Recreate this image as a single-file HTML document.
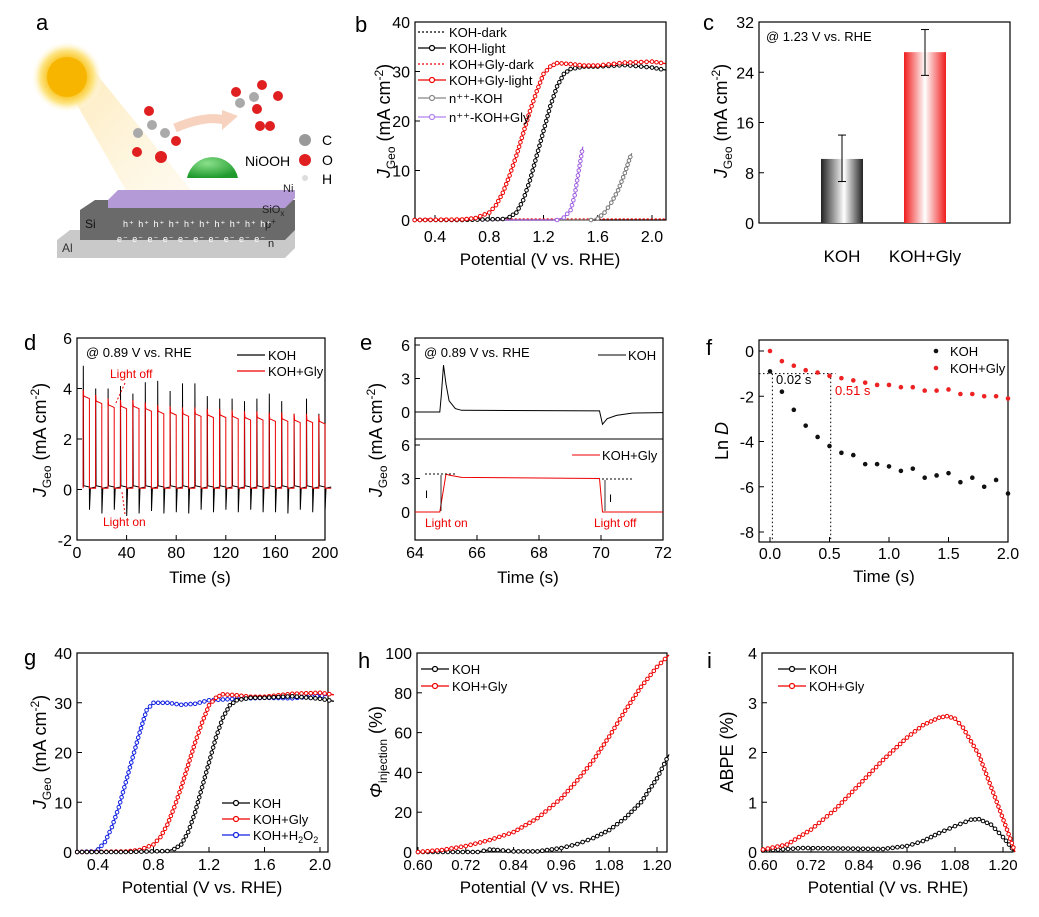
<!DOCTYPE html>
<html><head><meta charset="utf-8"><style>
body{margin:0;background:#fff}
svg{display:block;font-family:"Liberation Sans",Arial,sans-serif}
</style></head><body>
<svg id="fig" width="1039" height="917" viewBox="0 0 1039 917" xmlns="http://www.w3.org/2000/svg">
<defs>
<radialGradient id="sunG" cx="50%" cy="50%" r="50%"><stop offset="0.5" stop-color="#f9c21a"/><stop offset="0.75" stop-color="#fde68a"/><stop offset="1" stop-color="#fff" stop-opacity="0"/></radialGradient>
<linearGradient id="beam" x1="0" y1="0" x2="1" y2="1"><stop offset="0" stop-color="#fbd77a" stop-opacity="0.9"/><stop offset="1" stop-color="#fff3d6" stop-opacity="0.2"/></linearGradient>
<radialGradient id="dome" cx="40%" cy="30%" r="70%"><stop offset="0" stop-color="#8be08b"/><stop offset="1" stop-color="#1f9a2c"/></radialGradient>
<linearGradient id="barK" x1="0" x2="1"><stop offset="0" stop-color="#222"/><stop offset="0.55" stop-color="#fff"/><stop offset="1" stop-color="#222"/></linearGradient>
<linearGradient id="barR" x1="0" x2="1"><stop offset="0" stop-color="#f01c1c"/><stop offset="0.5" stop-color="#fff"/><stop offset="1" stop-color="#f01c1c"/></linearGradient>
</defs>
<g>
<text x="36" y="30" font-size="22">a</text>
<polygon points="60,75 85,60 240,250 160,250" fill="url(#beam)" opacity="0.6"/>
<circle cx="67" cy="77" r="36" fill="url(#sunG)"/>
<circle cx="67" cy="77" r="20" fill="#f7b500"/>
<path d="M175,128 Q205,115 225,120" stroke="#f7d2bf" stroke-width="9" fill="none"/>
<polygon points="222,110 238,116 222,130" fill="#f7d2bf"/>
<g>
<circle cx="138" cy="133" r="5" fill="#aaa"/><circle cx="152" cy="125" r="5" fill="#aaa"/><circle cx="165" cy="133" r="5" fill="#aaa"/>
<circle cx="149" cy="111" r="5" fill="#e02020"/><circle cx="137" cy="152" r="5" fill="#e02020"/><circle cx="176" cy="141" r="5" fill="#e02020"/>
</g>
<g>
<circle cx="240" cy="103" r="5" fill="#aaa"/><circle cx="254" cy="97" r="5" fill="#aaa"/>
<circle cx="236" cy="92" r="5" fill="#e02020"/><circle cx="262" cy="85" r="5" fill="#e02020"/><circle cx="257" cy="109" r="5" fill="#e02020"/><circle cx="278" cy="96" r="5" fill="#e02020"/>
<circle cx="260" cy="126" r="5" fill="#e02020"/><circle cx="270" cy="126" r="5" fill="#e02020"/>
</g>
<circle cx="161" cy="157" r="6" fill="#e02020"/>
<path d="M187,178 A26,26 0 0 1 238,178 Z" fill="url(#dome)"/>
<text x="245" y="166" font-size="14">NiOOH</text>
<circle cx="305" cy="140" r="6" fill="#999"/><text x="322" y="145" font-size="14">C</text>
<circle cx="305" cy="160" r="6" fill="#e02020"/><text x="322" y="165" font-size="14">O</text>
<circle cx="305" cy="178" r="3" fill="#ddd"/><text x="322" y="184" font-size="14">H</text>
<polygon points="57,240 70,230 295,230 295,248 285,258 57,258" fill="#c9c9c9"/>
<text x="62" y="252" font-size="12" fill="#333">Al</text>
<polygon points="80,210 95,200 295,200 295,230 285,240 80,240" fill="#6a6a6a"/>
<text x="85" y="228" font-size="12" fill="#111">Si</text>
<polygon points="108,200 118,190 295,190 295,198 285,208 108,208" fill="#b59ad8"/>
<text x="262" y="213" font-size="11" fill="#222">SiO<tspan font-size="8" dy="3">x</tspan></text>
<text x="283" y="192" font-size="11" fill="#222">Ni</text>
<text x="265" y="228" font-size="11" fill="#222">p<tspan font-size="8" dy="-4">+</tspan></text>
<text x="268" y="247" font-size="11" fill="#222">n</text>
<text x="123" y="227" font-size="9" fill="#fff" letter-spacing="1">h⁺ h⁺ h⁺ h⁺ h⁺ h⁺ h⁺ h⁺ h⁺ h⁺</text>
<text x="117" y="242" font-size="9" fill="#fff" letter-spacing="1">e⁻ e⁻ e⁻ e⁻ e⁻ e⁻ e⁻ e⁻ e⁻ e⁻</text>
</g>
<g id="charts"></g>
</svg>
<script>
const bX_KOH=[0.25,0.6,0.9,0.95,1.0,1.05,1.1,1.15,1.2,1.25,1.3,1.35,1.4,1.5,1.6,1.8,2.0,2.1];
const bY_KOH=[0,0,0.2,0.6,1.5,4,8,13,18,23,27,29.5,30.5,31,31,31.3,30.8,30.3];
const bX_Gly=[0.25,0.6,0.7,0.8,0.85,0.9,0.95,1.0,1.05,1.1,1.15,1.2,1.25,1.3,1.4,1.5,1.6,1.8,2.0,2.1];
const bY_Gly=[0,0.1,0.4,1.5,3,5.5,9,13,17.5,22,26,29.5,31,31.7,31.5,31.2,31.2,31.8,32,31.6];
const bX_nK=[0.25,1.55,1.6,1.65,1.7,1.75,1.8,1.83,1.85];
const bY_nK=[0,0,0.3,1.5,3.5,6,9.5,12,13.5];
const bX_nG=[0.25,1.3,1.35,1.4,1.43,1.46,1.49];
const bY_nG=[0,0,0.5,2,5,10,14.8];
const cCats=['KOH','KOH+Gly'];
const cVals=[10.2,27.2];
const cErrLo=[6.6,23.5];
const cErrHi=[14,30.8];
const dOn=[5,15,25,35,45,55,65,75,85,95,105,115,125,135,145,155,165,175,185,195];
const dSpikeUp=[4.9,4.0,4.0,4.1,3.8,4.25,4.3,3.9,4.2,4.2,3.7,3.6,3.6,3.5,3.6,3.8,3.5,3.0,3.6,3.0];
const dSpikeDn=[-0.8,-0.95,-0.8,-1.05,-0.95,-0.85,-0.95,-0.9,-0.95,-0.8,-0.9,-0.8,-0.9,-0.8,-0.9,-0.9,-0.95,-0.8,-0.9,-0.8];
const dRed=[3.7,3.5,3.35,3.3,3.3,3.2,3.1,3.05,3.0,3.0,2.95,2.95,2.9,2.85,2.85,2.8,2.8,2.75,2.75,2.7];
const eT_KOH=[64,64.8,64.85,64.92,65.0,65.1,65.3,65.5,69.95,70.05,70.2,70.5,71,72];
const eJ_KOH=[0,0,1.5,4.2,2.5,1,0.3,0.15,0.1,-1.1,-0.6,-0.3,-0.1,-0.05];
const eT_Gly=[64,64.8,65.0,65.1,65.5,69.95,70.05,72];
const eJ_Gly=[0,0,3.4,3.3,3.1,3.0,0,0];
const fT=[0,0.1,0.2,0.3,0.4,0.5,0.6,0.7,0.8,0.9,1.0,1.1,1.2,1.3,1.4,1.5,1.6,1.7,1.8,1.9,2.0];
const fKOH=[-0.9,-1.8,-2.6,-3.3,-3.8,-4.2,-4.5,-4.6,-5.0,-5.0,-5.1,-5.3,-5.2,-5.6,-5.5,-5.4,-5.8,-5.6,-6.0,-5.7,-6.3];
const fGly=[0,-0.45,-0.65,-0.85,-0.95,-1.1,-1.2,-1.3,-1.4,-1.5,-1.5,-1.6,-1.6,-1.75,-1.75,-1.7,-1.9,-1.9,-2.0,-2.0,-2.1];
const gX_H2O2=[0.25,0.35,0.4,0.45,0.5,0.55,0.6,0.65,0.7,0.75,0.8,0.9,1.0,1.1,1.2,1.4,1.6,1.8,2.05];
const gY_H2O2=[0,0.1,0.5,2,5,9,14,19,24,28.5,30,30,29.6,29.8,30.5,30.8,31,30.9,31.5];
const hX_KOH=[0.6,0.75,0.78,0.8,0.84,0.9,0.96,1.0,1.04,1.08,1.12,1.16,1.2,1.23];
const hY_KOH=[0,0,1.2,1,0.3,0.3,2,4,7,11,17,25,37,49];
const hX_Gly=[0.6,0.66,0.72,0.78,0.84,0.9,0.96,1.0,1.04,1.08,1.12,1.16,1.2,1.23];
const hY_Gly=[0,1,3,6,10,17,27,36,46,58,71,83,93,99];
const iX_KOH=[0.6,0.7,0.8,0.9,0.96,1.0,1.04,1.08,1.12,1.14,1.17,1.2,1.23];
const iY_KOH=[0.03,0.08,0.07,0.06,0.12,0.22,0.38,0.52,0.65,0.66,0.55,0.3,0];
const iX_Gly=[0.6,0.66,0.72,0.78,0.84,0.9,0.96,1.0,1.04,1.06,1.08,1.1,1.14,1.18,1.21,1.23];
const iY_Gly=[0.05,0.15,0.45,0.85,1.35,1.85,2.3,2.55,2.7,2.73,2.68,2.5,1.95,1.1,0.45,0];

const NS='http://www.w3.org/2000/svg';
const root=document.getElementById('charts');
function mk(tag,attrs,name,parent){
  const e=document.createElementNS(NS,tag);
  for(const k in attrs)e.setAttribute(k,attrs[k]);
  
  
  (parent||root).appendChild(e);return e;
}
function txt(x,y,s,size,name,opt,parent){const t=mk('text',Object.assign({x:x,y:y,'font-size':size},opt||{}),name,parent);t.textContent=s;return t;}
function lin(d0,d1,p0,p1){return v=>p0+(v-d0)*(p1-p0)/(d1-d0);}
function box(b,name){mk('rect',{x:b.x0,y:b.y0,width:b.x1-b.x0,height:b.y1-b.y0,fill:'none',stroke:'#000','stroke-width':1.2},name);}
function xTicks(b,sx,vals,labels,fs,ly,name){
  vals.forEach((v,i)=>{const x=sx(v);
    mk('line',{x1:x,x2:x,y1:b.y1,y2:b.y1-5,stroke:'#000'},name+'-tick');
    txt(x,ly,labels[i],fs,name+'-label',{'text-anchor':'middle'});});
}
function yTicks(b,sy,vals,labels,fs,name){
  vals.forEach((v,i)=>{const y=sy(v);
    mk('line',{x1:b.x0,x2:b.x0+5,y1:y,y2:y,stroke:'#000'},name+'-tick');
    txt(b.x0-5,y+6,labels[i],fs,name+'-label',{'text-anchor':'end'});});
}
function path(xs,ys,sx,sy,color,name,opt){
  const d=xs.map((v,i)=>(i?'L':'M')+sx(v).toFixed(1)+','+sy(ys[i]).toFixed(1)).join('');
  return mk('path',Object.assign({d:d,fill:'none',stroke:color,'stroke-width':1.3},opt||{}),name);
}
function dense(xs,ys,sx,sy,color,name){
  for(let i=0;i<xs.length-1;i++){
    const n=Math.max(1,Math.round(Math.hypot(sx(xs[i+1])-sx(xs[i]),sy(ys[i+1])-sy(ys[i]))/5));
    for(let k=0;k<n;k++){const f=k/n;
      mk('circle',{cx:sx(xs[i])+(sx(xs[i+1])-sx(xs[i]))*f,cy:sy(ys[i])+(sy(ys[i+1])-sy(ys[i]))*f,r:1.8,fill:'#fff',stroke:color,'stroke-width':1},name);}
  }
}
function jgeoLabel(x,y,name,size){
  const t=mk('text',{x:0,y:0,'font-size':size||18,transform:`translate(${x},${y}) rotate(-90)`,'text-anchor':'middle'},name);
  t.innerHTML='<tspan font-style="italic">J</tspan><tspan font-size="12" dy="5">Geo</tspan><tspan dy="-5"> (mA cm</tspan><tspan font-size="12" dy="-7">-2</tspan><tspan dy="7">)</tspan>';
}
function legendLine(x,y,color,label,name,dashed,marker){
  mk('line',{x1:x,x2:x+28,y1:y,y2:y,stroke:color,'stroke-width':1.3,'stroke-dasharray':dashed?'2,2':'none'},name+'-line');
  if(marker)mk('circle',{cx:x+14,cy:y,r:2.5,fill:'#fff',stroke:color,'stroke-width':1.2},name+'-marker');
  txt(x+31,y+5,label,13,name+'-text');
}

{const b={x0:415,x1:666,y0:22,y1:220};
 const sx=lin(0.4,2.0,435,652), sy=lin(0,40,220,22);
 txt(355,32,'b',22,'panel-label-b');
 box(b,'panel-b-frame');
 xTicks(b,sx,[0.4,0.8,1.2,1.6,2.0],['0.4','0.8','1.2','1.6','2.0'],16,242,'b-x');
 yTicks(b,sy,[0,10,20,30,40],['0','10','20','30','40'],16,'b-y');
 path([0.25,2.1],[0.1,0.1],sx,sy,'#000','koh-dark-line',{'stroke-dasharray':'2,2'});
 path([0.25,2.1],[0.2,0.2],sx,sy,'#e00','gly-dark-line',{'stroke-dasharray':'2,2'});
 path(bX_nK,bY_nK,sx,sy,'#777','n-koh-line'); dense(bX_nK.slice(1),bY_nK.slice(1),sx,sy,'#777','n-koh-point');
 path(bX_nG,bY_nG,sx,sy,'#a060e0','n-gly-line'); dense(bX_nG.slice(1),bY_nG.slice(1),sx,sy,'#a060e0','n-gly-point');
 path(bX_KOH,bY_KOH,sx,sy,'#000','koh-light-line'); dense(bX_KOH,bY_KOH,sx,sy,'#000','koh-light-point');
 path(bX_Gly,bY_Gly,sx,sy,'#e00','gly-light-line'); dense(bX_Gly,bY_Gly,sx,sy,'#e00','gly-light-point');
 legendLine(418,32,'#000','KOH-dark','legend-koh-dark',true,false);
 legendLine(418,48,'#000','KOH-light','legend-koh-light',false,true);
 legendLine(418,64,'#e00','KOH+Gly-dark','legend-gly-dark',true,false);
 legendLine(418,80,'#e00','KOH+Gly-light','legend-gly-light',false,true);
 legendLine(418,98,'#888','n⁺⁺-KOH','legend-n-koh',false,true);
 legendLine(418,117,'#b080f0','n⁺⁺-KOH+Gly','legend-n-gly',false,true);
 jgeoLabel(390,121,'b-y-title');
 txt(540,265,'Potential (V vs. RHE)',17,'b-x-title',{'text-anchor':'middle'});
}
{const b={x0:759,x1:1010,y0:22,y1:223};
 const sy=lin(0,32,223,22); const cx=[842,925];
 txt(703,30,'c',22,'panel-label-c');
 box(b,'panel-c-frame');
 yTicks(b,sy,[0,8,16,24,32],['0','8','16','24','32'],16,'c-y');
 cCats.forEach((c,i)=>{
   mk('rect',{x:cx[i]-21,y:sy(cVals[i]),width:42,height:sy(0)-sy(cVals[i]),fill:i?'url(#barR)':'url(#barK)'},'bar-'+c.toLowerCase().replace('+','-'));
   mk('line',{x1:cx[i],x2:cx[i],y1:sy(cErrLo[i]),y2:sy(cErrHi[i]),stroke:'#000'},'error-bar');
   mk('line',{x1:cx[i]-4,x2:cx[i]+4,y1:sy(cErrLo[i]),y2:sy(cErrLo[i]),stroke:'#000'},'error-cap');
   mk('line',{x1:cx[i]-4,x2:cx[i]+4,y1:sy(cErrHi[i]),y2:sy(cErrHi[i]),stroke:'#000'},'error-cap');
   txt(cx[i],262,c,17,'c-x-label',{'text-anchor':'middle'});
 });
 txt(766,41,'@ 1.23 V vs. RHE',13,'c-annotation');
 jgeoLabel(727,121,'c-y-title');
}
{const b={x0:77,x1:325,y0:338,y1:540};
 const sx=lin(0,200,77,325), sy=lin(-2,6,540,338);
 txt(24,350,'d',22,'panel-label-d');
 box(b,'panel-d-frame');
 xTicks(b,sx,[0,40,80,120,160,200],['0','40','80','120','160','200'],16,558,'d-x');
 yTicks(b,sy,[-2,0,2,4,6],['-2','0','2','4','6'],16,'d-y');
 let rx=[5],ry=[0.05];
 dOn.forEach((t,i)=>{rx.push(t,t,t+0.5,t+5,t+5,t+10);ry.push(0.05,dRed[i]+0.25,dRed[i],dRed[i]-0.1,0.05,0.05);});
 let kx=[5],ky=[0.1];
 dOn.forEach((t,i)=>{kx.push(t,t+0.05,t+0.4,t+5,t+5.05,t+5.8,t+10);ky.push(0.1,dSpikeUp[i],0.15,0.1,dSpikeDn[i],0.05,0.1);});
 path(kx,ky,sx,sy,'#000','koh-transient-line',{'stroke-width':1});
 path(rx,ry,sx,sy,'#e00','gly-transient-line',{'stroke-width':1});
 txt(86,357,'@ 0.89 V vs. RHE',13,'d-annotation');
 mk('line',{x1:237,x2:265,y1:355,y2:355,stroke:'#000','stroke-width':1.3},'legend-koh-line');
 txt(268,360,'KOH',13,'legend-koh-text');
 mk('line',{x1:237,x2:265,y1:371,y2:371,stroke:'#e00','stroke-width':1.3},'legend-gly-line');
 txt(268,376,'KOH+Gly',13,'legend-gly-text');
 txt(110,378,'Light off',12,'light-off-label',{fill:'#e00'});
 txt(103,526,'Light on',12,'light-on-label',{fill:'#e00'});
 mk('path',{d:'M125,383 L115,405',stroke:'#e00','stroke-dasharray':'2,2',fill:'none'},'light-off-arrow');
 mk('path',{d:'M125,514 L122,492',stroke:'#e00','stroke-dasharray':'2,2',fill:'none'},'light-on-arrow');
 jgeoLabel(46,440,'d-y-title');
 txt(200,583,'Time (s)',17,'d-x-title',{'text-anchor':'middle'});
}
{const b={x0:415,x1:663,y0:338,y1:540};
 const sx=lin(64,72,415,663), syT=lin(0,6,412,345), syB=lin(0,6,512,445);
 txt(360,350,'e',22,'panel-label-e');
 box(b,'panel-e-frame');
 mk('line',{x1:415,x2:663,y1:439,y2:439,stroke:'#000'},'e-divider');
 xTicks(b,sx,[64,66,68,70,72],['64','66','68','70','72'],16,558,'e-x');
 yTicks({x0:415},syT,[0,3,6],['0','3','6'],16,'e-top-y');
 yTicks({x0:415},syB,[0,3,6],['0','3','6'],16,'e-bottom-y');
 path(eT_KOH,eJ_KOH,sx,syT,'#000','e-koh-line',{'stroke-width':1});
 path(eT_Gly,eJ_Gly,sx,syB,'#e00','e-gly-line',{'stroke-width':1});
 txt(424,357,'@ 0.89 V vs. RHE',13,'e-annotation');
 mk('line',{x1:598,x2:626,y1:355,y2:355,stroke:'#000'},'legend-e-koh-line'); txt(628,360,'KOH',13,'legend-e-koh-text');
 mk('line',{x1:572,x2:600,y1:455,y2:455,stroke:'#e00'},'legend-e-gly-line'); txt(602,460,'KOH+Gly',13,'legend-e-gly-text');
 mk('line',{x1:425,x2:455,y1:474,y2:474,stroke:'#000','stroke-dasharray':'2,2'},'iin-ref');
 mk('line',{x1:602,x2:633,y1:479,y2:479,stroke:'#000','stroke-dasharray':'2,2'},'ist-ref');
 mk('line',{x1:441,x2:441,y1:475,y2:511,stroke:'#000','stroke-width':0.8},'iin-arrow');
 mk('line',{x1:605,x2:605,y1:480,y2:511,stroke:'#000','stroke-width':0.8},'ist-arrow');
 txt(425,498,'I',11,'iin-label'); txt(609,502,'I',11,'ist-label');
 txt(425,527,'Light on',12,'e-light-on',{fill:'#e00'});
 txt(594,527,'Light off',12,'e-light-off',{fill:'#e00'});
 jgeoLabel(382,440,'e-y-title');
 txt(528,583,'Time (s)',17,'e-x-title',{'text-anchor':'middle'});
}
{const b={x0:759,x1:1008,y0:340,y1:542};
 const sx=lin(0,2,770,1008), sy=lin(0,-8,351,532);
 txt(706,355,'f',22,'panel-label-f');
 box(b,'panel-f-frame');
 xTicks(b,sx,[0,0.5,1,1.5,2],['0.0','0.5','1.0','1.5','2.0'],16,559,'f-x');
 yTicks(b,sy,[0,-2,-4,-6,-8],['0','-2','-4','-6','-8'],16,'f-y');
 mk('path',{d:`M759,${sy(-1)}L${sx(0.55)},${sy(-1)}M${sx(0.02)},${sy(-1)}L${sx(0.02)},542M${sx(0.51)},${sy(-1)}L${sx(0.51)},542`,stroke:'#000','stroke-dasharray':'1.5,2.5',fill:'none'},'f-guide-lines');
 fT.forEach((t,i)=>{
   mk('circle',{cx:sx(t),cy:sy(fKOH[i]),r:2.3,fill:'#111'},'f-koh-point');
   mk('circle',{cx:sx(t),cy:sy(fGly[i]),r:2.3,fill:'#e22'},'f-gly-point');
 });
 txt(776,384,'0.02 s',13,'f-tau-koh');
 txt(835,395,'0.51 s',13,'f-tau-gly',{fill:'#e00'});
 mk('circle',{cx:936,cy:351,r:2.3,fill:'#111'},'legend-f-koh-marker'); txt(950,356,'KOH',13,'legend-f-koh-text');
 mk('circle',{cx:936,cy:368,r:2.3,fill:'#e22'},'legend-f-gly-marker'); txt(950,373,'KOH+Gly',13,'legend-f-gly-text');
 const t=mk('text',{x:0,y:0,'font-size':18,transform:'translate(728,441) rotate(-90)','text-anchor':'middle'},'f-y-title'); t.innerHTML='Ln <tspan font-style="italic">D</tspan>';
 txt(884,582,'Time (s)',17,'f-x-title',{'text-anchor':'middle'});
}
{const b={x0:77,x1:328,y0:653,y1:852};
 const sx=lin(0.4,2.0,98,320), sy=lin(0,40,852,653);
 txt(24,665,'g',22,'panel-label-g');
 box(b,'panel-g-frame');
 xTicks(b,sx,[0.4,0.8,1.2,1.6,2.0],['0.4','0.8','1.2','1.6','2.0'],16,870,'g-x');
 yTicks(b,sy,[0,10,20,30,40],['0','10','20','30','40'],16,'g-y');
 path(gX_H2O2,gY_H2O2,sx,sy,'#1020e0','g-h2o2-line'); dense(gX_H2O2,gY_H2O2,sx,sy,'#1020e0','g-h2o2-point');
 path(bX_Gly,bY_Gly,sx,sy,'#e00','g-gly-line'); dense(bX_Gly,bY_Gly,sx,sy,'#e00','g-gly-point');
 path(bX_KOH,bY_KOH,sx,sy,'#000','g-koh-line'); dense(bX_KOH,bY_KOH,sx,sy,'#000','g-koh-point');
 legendLine(222,803,'#000','KOH','legend-g-koh',false,true);
 legendLine(222,819,'#e00','KOH+Gly','legend-g-gly',false,true);
 legendLine(222,835,'#1020e0','','legend-g-h2o2',false,true);
 const t2=txt(253,840,'',13,'legend-g-h2o2-label'); t2.innerHTML='KOH+H<tspan font-size="9" dy="3">2</tspan><tspan dy="-3">O</tspan><tspan font-size="9" dy="3">2</tspan>';
 jgeoLabel(46,752,'g-y-title');
 txt(202,893,'Potential (V vs. RHE)',17,'g-x-title',{'text-anchor':'middle'});
}
{const b={x0:417,x1:667,y0:653,y1:852};
 const sx=lin(0.6,1.2,418,657), sy=lin(0,100,852,653);
 txt(358,668,'h',22,'panel-label-h');
 box(b,'panel-h-frame');
 xTicks(b,sx,[0.6,0.72,0.84,0.96,1.08,1.2],['0.60','0.72','0.84','0.96','1.08','1.20'],15,870,'h-x');
 yTicks(b,sy,[0,20,40,60,80,100],['0','20','40','60','80','100'],16,'h-y');
 path(hX_KOH,hY_KOH,sx,sy,'#000','h-koh-line'); dense(hX_KOH,hY_KOH,sx,sy,'#000','h-koh-point');
 path(hX_Gly,hY_Gly,sx,sy,'#e00','h-gly-line'); dense(hX_Gly,hY_Gly,sx,sy,'#e00','h-gly-point');
 legendLine(421,669,'#000','KOH','legend-h-koh',false,true);
 legendLine(421,686,'#e00','KOH+Gly','legend-h-gly',false,true);
 const t=mk('text',{x:0,y:0,'font-size':18,transform:'translate(382,752) rotate(-90)','text-anchor':'middle'},'h-y-title');
 t.innerHTML='<tspan font-style="italic">Φ</tspan><tspan font-size="12" dy="5">injection</tspan><tspan dy="-5"> (%)</tspan>';
 txt(540,893,'Potential (V vs. RHE)',17,'h-x-title',{'text-anchor':'middle'});
}
{const b={x0:762,x1:1013,y0:653,y1:852};
 const sx=lin(0.6,1.2,763,1003), sy=lin(0,4,852,653);
 txt(707,668,'i',22,'panel-label-i');
 box(b,'panel-i-frame');
 xTicks(b,sx,[0.6,0.72,0.84,0.96,1.08,1.2],['0.60','0.72','0.84','0.96','1.08','1.20'],15,870,'i-x');
 yTicks(b,sy,[0,1,2,3,4],['0','1','2','3','4'],16,'i-y');
 path(iX_KOH,iY_KOH,sx,sy,'#000','i-koh-line'); dense(iX_KOH,iY_KOH,sx,sy,'#000','i-koh-point');
 path(iX_Gly,iY_Gly,sx,sy,'#e00','i-gly-line'); dense(iX_Gly,iY_Gly,sx,sy,'#e00','i-gly-point');
 legendLine(778,669,'#000','KOH','legend-i-koh',false,true);
 legendLine(778,686,'#e00','KOH+Gly','legend-i-gly',false,true);
 const t=mk('text',{x:0,y:0,'font-size':18,transform:'translate(733,752) rotate(-90)','text-anchor':'middle'},'i-y-title'); t.textContent='ABPE (%)';
 txt(888,893,'Potential (V vs. RHE)',17,'i-x-title',{'text-anchor':'middle'});
}
</script>
</body></html>
